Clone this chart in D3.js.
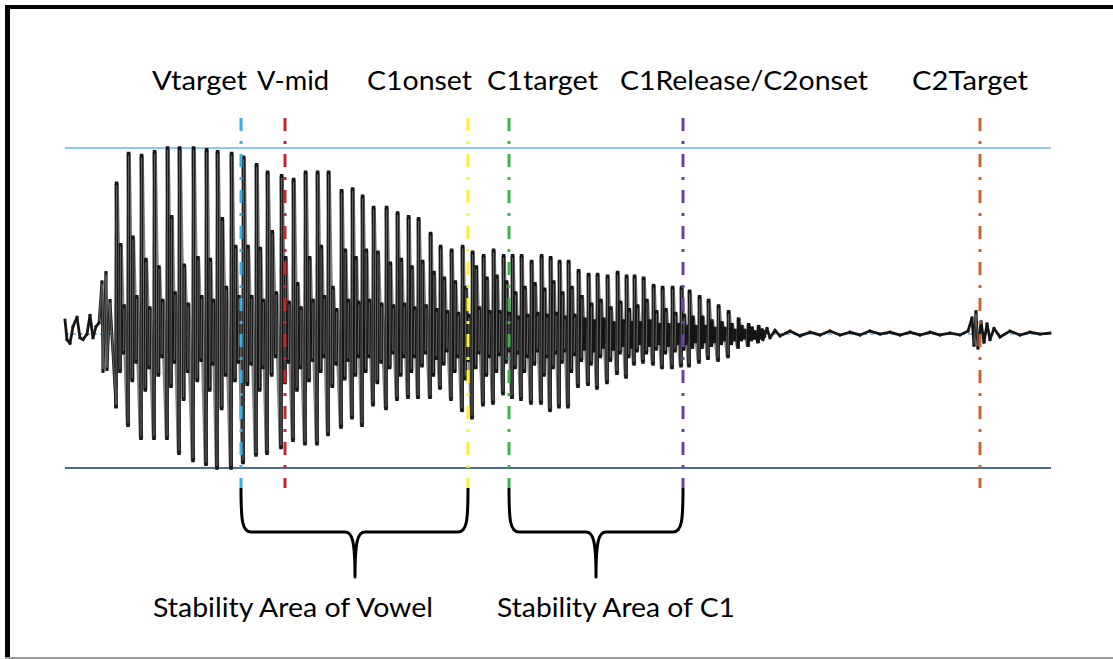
<!DOCTYPE html>
<html>
<head>
<meta charset="utf-8">
<script src="https://cdn.jsdelivr.net/npm/d3@7"></script>
<style>
  html, body { margin: 0; padding: 0; background: #fff; }
  svg { display: block; }
  text { font-family: "Lato", "Open Sans", sans-serif; fill: #000; }
</style>
</head>
<body>
<svg id="chart" width="1113" height="659"></svg>
<script>
// ---------------- DATA ----------------
// time in ms from start of the excerpt, amplitude normalised to the largest positive peak
const preT = [0, 1, 2.5, 4, 6, 7.5, 9, 11, 12.5, 14, 15.5, 17, 18.5, 19, 20.5, 21, 22.5];
const preA = [0.075, -0.03, -0.05, 0.04, 0.09, -0.02, -0.03, 0.0, 0.10, -0.02, 0.04, 0.06, 0.28, -0.20, 0.33, -0.19, 0.18];

const pulseT = [25.5, 31.5, 38, 44.5, 51, 57, 64, 70.5, 76, 83,
  89, 95.5, 101, 108, 114, 120, 126, 131.5, 138, 143.5,
  148.5, 154, 160.5, 166, 171.5, 176.5, 182.5, 187.5, 193, 198.5,
  203.5, 209, 214, 219, 223.5, 228, 233, 238, 242.5, 247,
  251.5, 256.5, 261.5, 266, 271, 276, 280.5, 284.5, 289, 294,
  298.5, 303.5, 308, 312, 317, 321.5, 326.5, 331.5, 336.5, 341.5, 346.5];
const pulseMax = [0.81, 0.97, 0.96, 0.98, 1.00, 1.00, 1.00, 0.99, 0.98, 0.97,
  0.95, 0.91, 0.87, 0.85, 0.83, 0.87, 0.87, 0.87, 0.77, 0.78,
  0.74, 0.68, 0.68, 0.65, 0.63, 0.62, 0.54, 0.47, 0.45, 0.47,
  0.44, 0.42, 0.45, 0.42, 0.42, 0.42, 0.39, 0.42, 0.41, 0.39,
  0.39, 0.34, 0.32, 0.32, 0.31, 0.33, 0.31, 0.31, 0.30, 0.26,
  0.25, 0.25, 0.25, 0.23, 0.20, 0.18, 0.15, 0.12, 0.08, 0.05, 0.04];
const pulseMin = [-0.39, -0.49, -0.56, -0.56, -0.56, -0.64, -0.68, -0.70, -0.72, -0.72,
  -0.69, -0.65, -0.64, -0.61, -0.57, -0.59, -0.59, -0.54, -0.50, -0.45,
  -0.49, -0.38, -0.40, -0.35, -0.34, -0.34, -0.34, -0.29, -0.35, -0.41,
  -0.45, -0.38, -0.37, -0.32, -0.34, -0.35, -0.37, -0.37, -0.41, -0.39,
  -0.39, -0.28, -0.27, -0.29, -0.26, -0.21, -0.23, -0.16, -0.15, -0.16,
  -0.18, -0.18, -0.17, -0.17, -0.15, -0.13, -0.14, -0.12, -0.07, -0.06, -0.04];
const secMin = [-0.20, -0.25, -0.30, -0.22, -0.28, -0.35, -0.25, -0.30, -0.40, -0.25,
  -0.27, -0.30, -0.22, -0.26, -0.30, -0.25, -0.20, -0.28, -0.24, -0.22,
  -0.20, -0.26, -0.18, -0.22, -0.20, -0.17, -0.22, -0.16, -0.20, -0.24,
  -0.18, -0.22, -0.20, -0.15, -0.18, -0.20, -0.16, -0.22, -0.18, -0.15,
  -0.20, -0.14, -0.16, -0.12, -0.14, -0.10, -0.12, -0.09, -0.10, -0.08,
  -0.10, -0.09, -0.08, -0.07, -0.07, -0.06, -0.05, -0.05, -0.03, -0.03, -0.02];
const secMax = [0.48, 0.52, 0.40, 0.36, 0.63, 0.37, 0.41, 0.40, 0.62, 0.47,
  0.47, 0.46, 0.55, 0.41, 0.27, 0.41, 0.47, 0.25, 0.45, 0.41,
  0.45, 0.44, 0.38, 0.40, 0.36, 0.39, 0.33, 0.30, 0.28, 0.25,
  0.36, 0.30, 0.31, 0.28, 0.22, 0.25, 0.27, 0.24, 0.28, 0.22,
  0.25, 0.20, 0.16, 0.18, 0.14, 0.17, 0.13, 0.15, 0.18, 0.12,
  0.13, 0.11, 0.10, 0.09, 0.09, 0.07, 0.06, 0.05, 0.04, 0.03, 0.02];
const terMin = [-0.10, -0.15, -0.18, -0.12, -0.15, -0.20, -0.14, -0.16, -0.22, -0.15,
  -0.16, -0.18, -0.12, -0.15, -0.18, -0.14, -0.12, -0.16, -0.14, -0.12,
  -0.12, -0.15, -0.10, -0.12, -0.12, -0.10, -0.13, -0.09, -0.12, -0.14,
  -0.10, -0.12, -0.11, -0.09, -0.10, -0.12, -0.09, -0.12, -0.10, -0.09,
  -0.11, -0.08, -0.09, -0.07, -0.08, -0.06, -0.07, -0.05, -0.06, -0.05,
  -0.06, -0.05, -0.05, -0.04, -0.04, -0.04, -0.03, -0.03, -0.02, -0.02, -0.01];
const terMax = [0.15, 0.20, 0.14, 0.18, 0.22, 0.16, 0.20, 0.18, 0.25, 0.20,
  0.20, 0.18, 0.22, 0.17, 0.14, 0.18, 0.20, 0.13, 0.18, 0.17,
  0.18, 0.16, 0.15, 0.16, 0.14, 0.15, 0.13, 0.12, 0.11, 0.10,
  0.14, 0.12, 0.12, 0.11, 0.09, 0.10, 0.11, 0.10, 0.11, 0.09,
  0.10, 0.08, 0.07, 0.08, 0.06, 0.07, 0.06, 0.06, 0.07, 0.05,
  0.05, 0.05, 0.04, 0.04, 0.04, 0.03, 0.03, 0.02, 0.02, 0.01, 0.01];

const postT = [349, 351, 352.5, 355, 357.5, 362.5, 367.5, 372.5, 377.5, 382.5,
  387.5, 392.5, 397.5, 402.5, 407.5, 412.5, 417.5, 422.5, 427.5, 432.5,
  437.5, 442.5, 447.5, 451.5, 453.5, 454.5, 455.5, 456.5, 458, 459.5,
  461, 462.5, 464.5, 467.5, 472.5, 477.5, 482.5, 487.5, 492.5];
const postA = [-0.03, 0.03, -0.02, 0.02, -0.01, 0.016, -0.01, 0.01, -0.005, 0.016,
  -0.005, 0.01, -0.005, 0.016, 0.0, 0.01, -0.005, 0.01, -0.005, 0.01,
  -0.005, 0.005, -0.005, 0.016, 0.086, -0.06, 0.12, -0.075, 0.065, -0.043,
  0.054, -0.03, 0.03, -0.016, 0.016, -0.005, 0.01, 0.0, 0.005];

// reference levels: max, zero line, min
const refLevels = [1, 0, -0.72];

// annotation markers
const markerNames = ["Vtarget", "V-mid", "C1onset", "C1target", "C1Release/C2onset", "C2Target"];
const markerTimes = [88, 110, 201.5, 222, 309, 457.5];

// stability-area braces (start, end, tip) and their labels
const braceStart = [88, 222];
const braceEnd = [201.5, 309];
const braceTip = [145, 265.5];
const braceLabels = ["Stability Area of Vowel", "Stability Area of C1"];

// ---------------- LAYOUT / STYLE ----------------
const W = 1113, H = 659;
const markerColors = ["#3aafe6", "#c1272d", "#fff12a", "#3bb24a", "#6a3fa6", "#c8662e"];
const labelX = [152, 257, 367, 487, 620, 912];
const labelW = [95, 72, 105, 111, 248, 116];
const braceLabelX = [153, 497];
const braceLabelW = [280, 238];

const svg = d3.select("#chart");
svg.append("rect").attr("width", W).attr("height", H).attr("fill", "#fff");

const x = d3.scaleLinear().domain([0, 492.5]).range([65, 1050]);
const y = d3.scaleLinear().domain([-0.72, 1]).range([468, 148]);

// frame
svg.append("rect").attr("x", 5).attr("y", 5).attr("width", 5).attr("height", 652).attr("fill", "#000");
svg.append("rect").attr("x", 5).attr("y", 5).attr("width", W - 5).attr("height", 4).attr("fill", "#000");
svg.append("line").attr("x1", 5).attr("x2", W).attr("y1", 658).attr("y2", 658)
  .attr("stroke", "#9a9a9a").attr("stroke-width", 2);

// reference lines
const refStyles = [
  { stroke: "#62b8e8", w: 1.6, dash: null },
  { stroke: "#2f7fb5", w: 1, dash: "4,3" },
  { stroke: "#4d6e86", w: 2.2, dash: null }
];
refLevels.forEach((lv, i) => {
  svg.append("line")
    .attr("x1", x(0)).attr("x2", x(492.5) + 1)
    .attr("y1", y(lv)).attr("y2", y(lv))
    .attr("stroke", refStyles[i].stroke)
    .attr("stroke-width", refStyles[i].w)
    .attr("stroke-dasharray", refStyles[i].dash);
});

// build waveform points: [time, amplitude, voiced?]
const pts = [];
preT.forEach((t, i) => pts.push([t, preA[i], false]));
pulseT.forEach((t, i) => {
  const P = (i < pulseT.length - 1 ? pulseT[i + 1] : t + 5) - t;
  pts.push([t, pulseMin[i], true]);
  pts.push([t + 0.3, pulseMax[i], true]);
  pts.push([t + 0.33 * P, secMin[i], true]);
  pts.push([t + 0.33 * P + 0.3, secMax[i], true]);
  pts.push([t + 0.62 * P, terMin[i], true]);
  pts.push([t + 0.62 * P + 0.3, terMax[i], true]);
});
postT.forEach((t, i) => pts.push([t, postA[i], false]));

const segs = d3.pairs(pts).map(([a, b]) => {
  const x1 = x(a[0]), y1 = y(a[1]), x2 = x(b[0]), y2 = y(b[1]);
  const voiced = a[2] && b[2];
  const steep = !voiced || Math.abs(x2 - x1) < 1.5 || Math.abs(y2 - y1) < 10;
  return { x1, y1, x2, y2, steep, voiced };
});

const wave = svg.append("g");
// sloped parts: grey bands
wave.selectAll("line.slope").data(segs.filter(s => !s.steep)).join("line")
  .attr("class", "slope")
  .attr("x1", d => d.x1).attr("y1", d => d.y1).attr("x2", d => d.x2).attr("y2", d => d.y2)
  .attr("stroke", "#808080").attr("stroke-width", 4.5);
// steep strokes: black bars
wave.selectAll("line.bar").data(segs.filter(s => s.steep)).join("line")
  .attr("class", "bar")
  .attr("x1", d => d.x1).attr("y1", d => d.y1).attr("x2", d => d.x2).attr("y2", d => d.y2)
  .attr("stroke", "#151515").attr("stroke-width", d => d.voiced ? 3.6 : 2.8)
  .attr("stroke-linecap", "square");
wave.selectAll("line.core").data(segs.filter(s => s.steep && Math.abs(s.y2 - s.y1) > 30)).join("line")
  .attr("class", "core")
  .attr("x1", d => d.x1).attr("y1", d => d.y1 + Math.sign(d.y2 - d.y1) * 2)
  .attr("x2", d => d.x2).attr("y2", d => d.y2 - Math.sign(d.y2 - d.y1) * 2)
  .attr("stroke", "#5e5e5e").attr("stroke-width", 1.2);

// marker lines
markerTimes.forEach((t, i) => {
  svg.append("line")
    .attr("x1", x(t)).attr("x2", x(t))
    .attr("y1", 118).attr("y2", 488)
    .attr("stroke", markerColors[i])
    .attr("stroke-width", 3)
    .attr("stroke-dasharray", "13,10,3,10");
});

// top labels
markerNames.forEach((n, i) => {
  svg.append("text")
    .attr("x", labelX[i]).attr("y", 90)
    .attr("font-size", 27.5)
    .attr("textLength", labelW[i]).attr("lengthAdjust", "spacingAndGlyphs")
    .text(n);
});

// braces
braceStart.forEach((s, i) => {
  const x1 = x(s), x2 = x(braceEnd[i]), m = x(braceTip[i]);
  const top = 488, hy = 532, tip = 577;
  const p = d3.path();
  p.moveTo(x1, top);
  p.bezierCurveTo(x1, hy - 12, x1 + 1, hy, x1 + 10, hy);
  p.lineTo(m - 10, hy);
  p.bezierCurveTo(m - 3, hy, m, hy + 8, m, tip);
  p.bezierCurveTo(m, hy + 8, m + 3, hy, m + 10, hy);
  p.lineTo(x2 - 10, hy);
  p.bezierCurveTo(x2 - 1, hy, x2, hy - 12, x2, top);
  svg.append("path").attr("d", p.toString()).attr("fill", "none")
    .attr("stroke", "#000").attr("stroke-width", 3).attr("stroke-linejoin", "round");
  svg.append("text")
    .attr("x", braceLabelX[i]).attr("y", 617)
    .attr("font-size", 27.5)
    .attr("textLength", braceLabelW[i]).attr("lengthAdjust", "spacingAndGlyphs")
    .text(braceLabels[i]);
});
</script>
</body>
</html>
